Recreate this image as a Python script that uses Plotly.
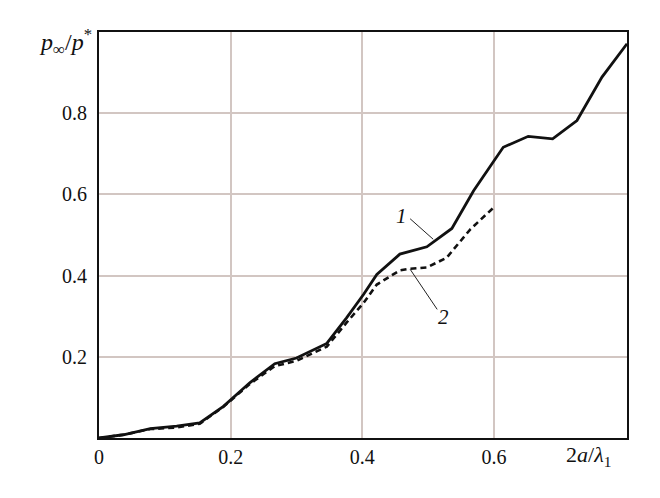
import plotly.graph_objects as go

# Curve 1 (solid)
x1 = [0.0, 0.037, 0.078, 0.118, 0.153, 0.189, 0.229, 0.267, 0.300, 0.346, 0.376, 0.402, 0.422,
      0.457, 0.498, 0.536, 0.569, 0.614, 0.652, 0.689, 0.726, 0.764, 0.802]
y1 = [0.0, 0.008, 0.023, 0.029, 0.037, 0.078, 0.136, 0.183, 0.197, 0.233, 0.296, 0.354, 0.403,
      0.453, 0.471, 0.516, 0.609, 0.716, 0.743, 0.737, 0.782, 0.889, 0.971]
# Curve 2 (dashed)
x2 = [0.0, 0.037, 0.078, 0.118, 0.153, 0.189, 0.229, 0.267, 0.300, 0.346, 0.376, 0.402, 0.422,
      0.457, 0.473, 0.498, 0.528, 0.564, 0.601]
y2 = [0.0, 0.008, 0.022, 0.026, 0.035, 0.077, 0.133, 0.177, 0.190, 0.225, 0.284, 0.333, 0.378,
      0.413, 0.417, 0.420, 0.444, 0.514, 0.570]

x_ticks = [0, 0.2, 0.4, 0.6]
x_tick_labels = ["0", "0.2", "0.4", "0.6"]
y_ticks = [0.2, 0.4, 0.6, 0.8]
y_tick_labels = ["0.2", "0.4", "0.6", "0.8"]

font_family = "'Liberation Serif', 'DejaVu Serif', serif"
grid_color = "#d2c6c2"

fig = go.Figure()
fig.add_trace(go.Scatter(x=x1, y=y1, mode="lines",
                         line=dict(color="#111111", width=2.8), showlegend=False))
fig.add_trace(go.Scatter(x=x2, y=y2, mode="lines",
                         line=dict(color="#111111", width=2.6, dash="6px,4px"), showlegend=False))

# leader lines for labels
fig.add_shape(type="line", x0=0.4726, y0=0.540, x1=0.5076, y1=0.4896,
              line=dict(color="#222222", width=1))
fig.add_shape(type="line", x0=0.4726, y0=0.4156, x1=0.5137, y1=0.3168,
              line=dict(color="#222222", width=1))
fig.add_annotation(x=0.4597, y=0.546, text="<i>1</i>", showarrow=False,
                   font=dict(family=font_family, size=21, color="#111111"))
fig.add_annotation(x=0.5228, y=0.299, text="<i>2</i>", showarrow=False,
                   font=dict(family=font_family, size=21, color="#111111"))

# axis titles
fig.add_annotation(xref="paper", yref="paper", x=-0.01, y=0.975, xanchor="right", yanchor="middle",
                   text="<i>p</i><sub>∞</sub>/<i>p</i><sup>*</sup>", showarrow=False,
                   font=dict(family=font_family, size=24, color="#111111"))
fig.add_annotation(xref="paper", yref="paper", x=0.927, y=-0.045, xanchor="center", yanchor="middle",
                   text="2<i>a</i>/<i>λ</i><sub>1</sub>", showarrow=False,
                   font=dict(family=font_family, size=22, color="#111111"))

fig.update_layout(
    width=652, height=490,
    margin=dict(l=91, r=33, t=24, b=60),
    paper_bgcolor="white", plot_bgcolor="white",
    font=dict(family=font_family, size=20, color="#111111"),
    xaxis=dict(range=[0, 0.802], tickvals=x_ticks, ticktext=x_tick_labels,
               showgrid=True, gridcolor=grid_color, gridwidth=1.5, zeroline=False,
               showline=True, linecolor="#111111", linewidth=2, mirror=True,
               ticks="", ticklen=0,
               tickfont=dict(family=font_family, size=20, color="#111111")),
    yaxis=dict(range=[0, 1.0], tickvals=y_ticks, ticktext=y_tick_labels,
               showgrid=True, gridcolor=grid_color, gridwidth=1.5, zeroline=False,
               showline=True, linecolor="#111111", linewidth=2, mirror=True,
               ticks="", ticklen=0, ticklabelstandoff=6,
               tickfont=dict(family=font_family, size=20, color="#111111")),
)

fig.write_html("out.html")
